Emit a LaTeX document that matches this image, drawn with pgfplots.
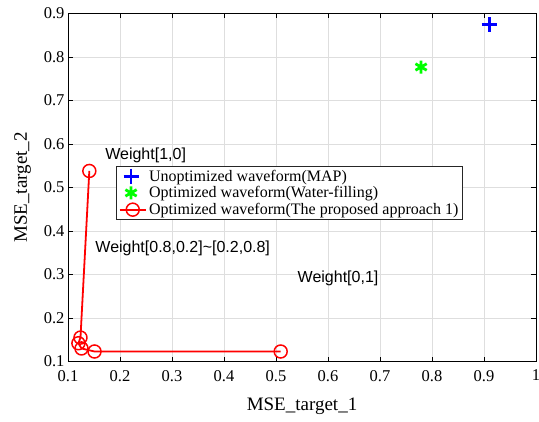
\documentclass[border=0pt]{standalone}
\usepackage{fontspec}
\setmainfont{Liberation Serif}
\newfontfamily\arial{Liberation Sans}
\usepackage{pgfplots}
\pgfplotsset{compat=1.18}
\pgfplotsset{
  legmark/.style={legend image code/.code={\draw[##1] plot coordinates {(0.4cm,0cm)};\path (0cm,0cm) (0.92cm,0cm);}},
  legline/.style={legend image code/.code={\draw[mark repeat=2,mark phase=2,##1] plot coordinates {(0cm,0cm) (0.46cm,0cm) (0.92cm,0cm)};}},
}
\begin{document}
\begin{tikzpicture}
\begin{axis}[
  scale only axis,
  width=468bp, height=348bp,
  xmin=0.1, xmax=1, ymin=0.1, ymax=0.9,
  xtick={0.1,0.2,...,1.0},
  ytick={0.1,0.2,...,0.9},
  xticklabels={0.1,0.2,0.3,0.4,0.5,0.6,0.7,0.8,0.9,1},
  yticklabels={0.1,0.2,0.3,0.4,0.5,0.6,0.7,0.8,0.9},
  /pgf/number format/assume math mode=true,
  tick label style={font=\fontsize{16.5bp}{18bp}\selectfont},
  xticklabel style={yshift=-5bp},
  yticklabel style={xshift=0bp},
  label style={font=\fontsize{19bp}{21bp}\selectfont},
  xlabel={MSE\_target\_1},
  ylabel={MSE\_target\_2},
  xlabel style={yshift=-10bp},
  ylabel style={yshift=6bp},
  grid=major,
  major grid style={draw=black!13, line width=0.6pt},
  axis line style={line width=0.7pt},
  tick style={line width=0.6pt, black},
  tick align=inside,
  major tick length=5bp,
  legend style={at={(0.1026,0.5618)}, anchor=north west,
    draw=black!85, line width=0.6pt,
    font=\fontsize{16bp}{18bp}\selectfont,
    inner xsep=2bp, inner ysep=1.5bp, row sep=0bp,
    cells={anchor=west}},
  legend cell align=left,
]
\addplot[only marks, blue, mark=+, mark size=7.5bp, line width=2.8pt, legmark] coordinates {(0.91,0.874)};
\addlegendentry{Unoptimized waveform(MAP)}
\addplot[only marks, green, mark=asterisk, mark size=6.5bp, line width=2.8pt, legmark] coordinates {(0.779,0.777)};
\addlegendentry{Optimized waveform(Water-filling)}
\addplot[red, line width=1.8pt, mark=o, mark size=6.5bp, mark options={line width=1.5pt}, legline] coordinates {
(0.141,0.538) (0.124,0.155) (0.120,0.142) (0.126,0.130) (0.151,0.123) (0.509,0.123)};
\addlegendentry{Optimized waveform(The proposed approach 1)}
\node[anchor=west, font=\arial\fontsize{16bp}{18bp}\selectfont] at (axis cs:0.165,0.575) {Weight[1,0]};
\node[anchor=west, font=\arial\fontsize{16bp}{18bp}\selectfont] at (axis cs:0.146,0.361) {Weight[0.8,0.2]\textasciitilde[0.2,0.8]};
\node[anchor=west, font=\arial\fontsize{16bp}{18bp}\selectfont] at (axis cs:0.535,0.292) {Weight[0,1]};
\coordinate (A) at (rel axis cs:0,0);
\coordinate (B) at (rel axis cs:1,1);
\end{axis}
\pgfresetboundingbox
\path ([shift={(-68bp,-59.5bp)}]A) rectangle ([shift={(3bp,13.5bp)}]B);
\end{tikzpicture}
\end{document}
